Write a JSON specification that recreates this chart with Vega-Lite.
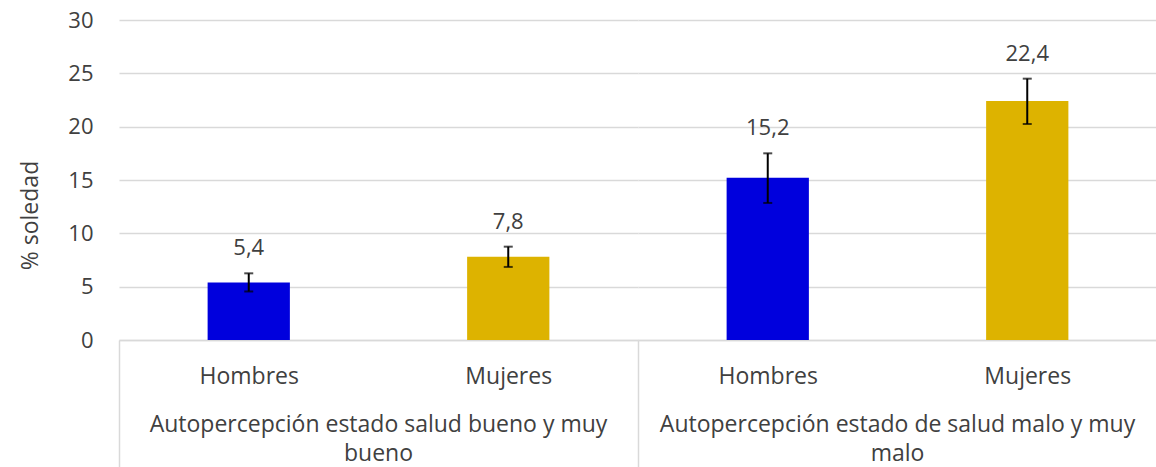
{
  "$schema": "https://vega.github.io/schema/vega-lite/v6.json",
  "padding": {"left": 19, "top": 9, "right": 0, "bottom": 0},
  "background": "white",
  "data": {
    "values": [
      {"grupo": "Autopercepción estado salud bueno y muy bueno", "sexo": "Hombres", "pct": 5.4, "lo": 4.55, "hi": 6.25},
      {"grupo": "Autopercepción estado salud bueno y muy bueno", "sexo": "Mujeres", "pct": 7.8, "lo": 6.85, "hi": 8.75},
      {"grupo": "Autopercepción estado de salud malo y muy malo", "sexo": "Hombres", "pct": 15.2, "lo": 12.85, "hi": 17.5},
      {"grupo": "Autopercepción estado de salud malo y muy malo", "sexo": "Mujeres", "pct": 22.4, "lo": 20.25, "hi": 24.5}
    ]
  },
  "facet": {
    "column": {
      "field": "grupo",
      "type": "nominal",
      "sort": ["Autopercepción estado salud bueno y muy bueno", "Autopercepción estado de salud malo y muy malo"],
      "title": null,
      "header": {
        "labelOrient": "bottom",
        "labelPadding": -54,
        "labelFont": "Open Sans",
        "labelFontSize": 23,
        "labelColor": "#404040",
        "labelLineHeight": 29,
        "labelExpr": "[substring(datum.value, 0, lastindexof(datum.value, ' ')), substring(datum.value, lastindexof(datum.value, ' ') + 1)]"
      }
    }
  },
  "spacing": 0,
  "spec": {
    "width": {"step": 259.5},
    "height": 320,
    "encoding": {
      "x": {
        "field": "sexo",
        "type": "nominal",
        "sort": ["Hombres", "Mujeres"],
        "scale": {"paddingInner": 0.683, "paddingOuter": 0.3415},
        "axis": {
          "title": null,
          "labelAngle": 0,
          "labelFont": "Open Sans",
          "labelFontSize": 23,
          "labelColor": "#404040",
          "labelPadding": -102,
          "domain": true,
          "domainColor": "#d9d9d9",
          "domainWidth": 1.5,
          "ticks": true,
          "tickOffset": -129.75,
          "labelOffset": 129.75,
          "tickSize": 127,
          "tickWidth": 1.5,
          "tickColor": {"condition": {"test": "datum.value === 'Hombres'", "value": "#d9d9d9"}, "value": "rgba(0,0,0,0)"},
          "grid": false
        }
      }
    },
    "layer": [
      {
        "mark": {"type": "bar"},
        "encoding": {
          "y": {
            "field": "pct",
            "type": "quantitative",
            "title": "% soledad",
            "scale": {"domain": [0, 30]},
            "axis": {
              "titleFont": "Open Sans",
              "titleFontSize": 23,
              "titleFontWeight": "normal",
              "titleColor": "#404040",
              "titlePadding": 25,
              "titleY": 195,
              "values": [0, 5, 10, 15, 20, 25, 30],
              "labelFont": "Open Sans",
              "labelFontSize": 22,
              "labelColor": "#404040",
              "labelPadding": 26,
              "domain": false,
              "ticks": false,
              "grid": true,
              "gridColor": "#d9d9d9",
              "gridWidth": 1.5
            }
          },
          "color": {
            "field": "sexo",
            "type": "nominal",
            "scale": {"domain": ["Hombres", "Mujeres"], "range": ["#0000DD", "#DDB300"]},
            "legend": null
          }
        }
      },
      {
        "mark": {
          "type": "errorbar",
          "color": "#000000",
          "ticks": {"size": 9, "thickness": 2, "color": "#000000"},
          "rule": {"strokeWidth": 2}
        },
        "encoding": {
          "y": {"field": "lo", "type": "quantitative", "title": "% soledad"},
          "y2": {"field": "hi"}
        }
      },
      {
        "mark": {"type": "text", "baseline": "bottom", "dy": -13, "font": "Open Sans", "fontSize": 22, "color": "#404040"},
        "encoding": {
          "y": {"field": "hi", "type": "quantitative", "title": "% soledad"},
          "text": {"field": "pct", "type": "quantitative", "format": ".1f"}
        }
      }
    ]
  },
  "config": {
    "locale": {"number": {"decimal": ",", "thousands": ".", "grouping": [3], "currency": ["", " €"]}},
    "view": {"stroke": null}
  }
}
